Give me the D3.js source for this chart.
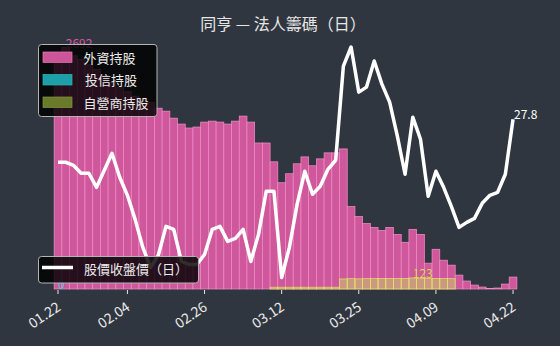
<!DOCTYPE html>
<html><head><meta charset="utf-8">
<script src="https://cdn.jsdelivr.net/npm/d3@7"></script>
<style>
html,body{margin:0;padding:0;background:#30363f;}
svg{display:block;font-family:"Noto Sans CJK TC","Noto Sans",sans-serif;}
</style></head>
<body>
<svg id="chart" width="560" height="346"></svg>
<script>
// ---------- data ----------
const dates = ["01.22","01.23","01.26","01.27","01.28","01.29","01.30","02.02","02.03","02.04",
  "02.05","02.06","02.09","02.10","02.11","02.12","02.13","02.24","02.25","02.26",
  "02.27","03.02","03.03","03.04","03.05","03.06","03.09","03.10","03.11","03.12",
  "03.13","03.16","03.17","03.18","03.19","03.20","03.21","03.23","03.24","03.25",
  "03.26","03.27","03.30","03.31","04.01","04.02","04.06","04.07","04.08","04.09",
  "04.10","04.13","04.14","04.15","04.16","04.17","04.18","04.20","04.21","04.22"];
const tickLabels = ["01.22","02.04","02.26","03.12","03.25","04.09","04.22"];
const foreign = [2550,2692,2600,2560,2500,2450,2380,2300,2250,2200,
  2150,2120,2080,2016,1983,1905,1839,1795,1806,1861,
  1872,1861,1839,1872,1928,1861,1628,1628,1418,1185,
  1285,1396,1473,1374,1451,1518,1518,1562,919,809,
  731,687,654,687,609,521,665,609,288,443,
  321,266,155,89,44,22,5,11,55,133];
const trust = new Array(60).fill(0);
const dealer = [0,0,0,0,0,0,0,0,0,0,
  0,0,0,0,0,0,0,0,0,0,
  0,0,0,0,0,0,0,0,20,20,
  20,20,20,20,20,20,20,112,115,113,
  115,116,118,117,119,118,123,121,120,118,
  117,115,0,0,0,0,0,0,0,0];
const price = [25.65,25.65,25.5,25.1,25.1,24.4,25.25,26.1,24.9,24.0,
  22.8,21.4,20.4,21.0,22.45,22.3,20.7,20.55,20.55,21.05,
  22.3,22.45,21.7,21.85,22.3,20.7,22.05,24.2,24.2,19.9,
  21.4,23.55,25.2,24.05,24.45,25.3,25.75,30.45,31.4,29.15,
  29.4,30.7,29.55,28.65,26.95,25.05,27.9,26.8,23.95,25.2,
  24.4,23.45,22.4,22.65,22.85,23.6,24.0,24.15,25.05,27.8];
const seriesNames = ["外資持股","投信持股","自營商持股"];
const lineName = "股價收盤價（日）";
const title = "同亨 — 法人籌碼（日）";

// ---------- layout ----------
const svg = d3.select("#chart");
const L = 54.15, R = 516.9, T = 35.5, B = 289;

const x = d3.scaleBand().domain(d3.range(dates.length)).range([L, R]).padding(0);
const bw = x.bandwidth();
const cx = i => x(i) + bw / 2;

const yMaxBar = d3.max(foreign);
const yBar = d3.scaleLinear().domain([0, yMaxBar * 1.05]).range([B, T]);
const pMin = d3.min(price), pMax = d3.max(price), pPad = (pMax - pMin) * 0.05;
const yPrice = d3.scaleLinear().domain([pMin - pPad, pMax + pPad]).range([B, T]);

// title
svg.append("text").attr("x", 283).attr("y", 30).attr("text-anchor", "middle")
  .attr("fill", "#e6e6e6").attr("font-size", 16).text(title);

// foreign bars
svg.append("g").selectAll("rect").data(foreign).join("rect")
  .attr("x", (d, i) => x(i)).attr("width", bw)
  .attr("y", d => yBar(d)).attr("height", d => B - yBar(d))
  .attr("fill", "#cf579c").attr("stroke", "#f291c6").attr("stroke-width", 0.7);

// trust bars (all zero)
svg.append("g").selectAll("rect").data(trust).join("rect")
  .attr("x", (d, i) => x(i)).attr("width", bw)
  .attr("y", d => yBar(d)).attr("height", d => B - yBar(d))
  .attr("fill", "rgba(0,200,210,0.5)");

// dealer bars
svg.append("g").selectAll("rect").data(dealer).join("rect")
  .attr("x", (d, i) => x(i)).attr("width", bw)
  .attr("y", d => yBar(d)).attr("height", d => B - yBar(d))
  .attr("fill", "rgba(200,220,100,0.5)")
  .attr("stroke", d => d > 0 ? "#e6e163" : "none").attr("stroke-width", 0.7);

// x ticks
const xAxis = svg.append("g");
tickLabels.forEach(lbl => {
  const i = dates.indexOf(lbl);
  const tx = cx(i);
  xAxis.append("line").attr("x1", tx).attr("x2", tx).attr("y1", B + 1).attr("y2", B + 5)
    .attr("stroke", "#e6e6e6").attr("stroke-width", 1);
  xAxis.append("text").attr("transform", `translate(${tx - 2},${B + 12}) rotate(-34)`)
    .attr("text-anchor", "end").attr("dy", "0.72em")
    .attr("fill", "#eaeaea").attr("font-size", 14).text(lbl);
});

// price line
const line = d3.line().x((d, i) => cx(i)).y(d => yPrice(d));
svg.append("path").datum(price).attr("d", line)
  .attr("fill", "none").attr("stroke", "#ffffff").attr("stroke-width", 3.5)
  .attr("stroke-linejoin", "round").attr("stroke-linecap", "butt");

// value labels
const last = price.length - 1;
svg.append("text").attr("x", cx(last) + 1).attr("y", yPrice(price[last]))
  .attr("fill", "#ffffff").attr("font-size", 12).text(price[last]);
const fi = foreign.indexOf(d3.max(foreign));
svg.append("text").attr("x", cx(fi)).attr("y", yBar(foreign[fi]))
  .attr("fill", "#d5589f").attr("font-size", 12).text(foreign[fi]);
const ti = trust.indexOf(d3.max(trust));
svg.append("text").attr("x", cx(ti)).attr("y", yBar(trust[ti]))
  .attr("fill", "#3fc4d8").attr("font-size", 12).text(trust[ti]);
const di = dealer.indexOf(d3.max(dealer));
svg.append("text").attr("x", cx(di)).attr("y", yBar(dealer[di]))
  .attr("fill", "#d6dc45").attr("font-size", 12).text(dealer[di]);

// top legend
const lg = svg.append("g");
lg.append("rect").attr("x", 38.5).attr("y", 44.5).attr("width", 118.5).attr("height", 72)
  .attr("rx", 3).attr("fill", "rgba(0,0,0,0.82)").attr("stroke", "#b4b4b4").attr("stroke-width", 1);
const swatch = ["#cc5599", "#1c9fa6", "#6a7a2c"];
const swStroke = ["#e27ab5", "#2fb5bd", "#85943a"];
seriesNames.forEach((n, k) => {
  lg.append("rect").attr("x", 43).attr("y", 52 + k * 22.5).attr("width", 29).attr("height", 10.5)
    .attr("fill", swatch[k]).attr("stroke", swStroke[k]).attr("stroke-width", 0.7);
  lg.append("text").attr("x", k === 1 ? 85 : 83.5).attr("y", 62.5 + k * 22.5)
    .attr("fill", "#ececec").attr("font-size", 13).text(n);
});

// bottom legend
const lg2 = svg.append("g");
lg2.append("rect").attr("x", 38.5).attr("y", 256.5).attr("width", 160).attr("height", 26.5)
  .attr("rx", 3).attr("fill", "rgba(0,0,0,0.82)").attr("stroke", "#b4b4b4").attr("stroke-width", 1);
lg2.append("line").attr("x1", 42).attr("x2", 73).attr("y1", 267.5).attr("y2", 267.5)
  .attr("stroke", "#ffffff").attr("stroke-width", 3.5);
lg2.append("text").attr("x", 84).attr("y", 274)
  .attr("fill", "#ececec").attr("font-size", 13).text(lineName);
</script>
</body></html>
